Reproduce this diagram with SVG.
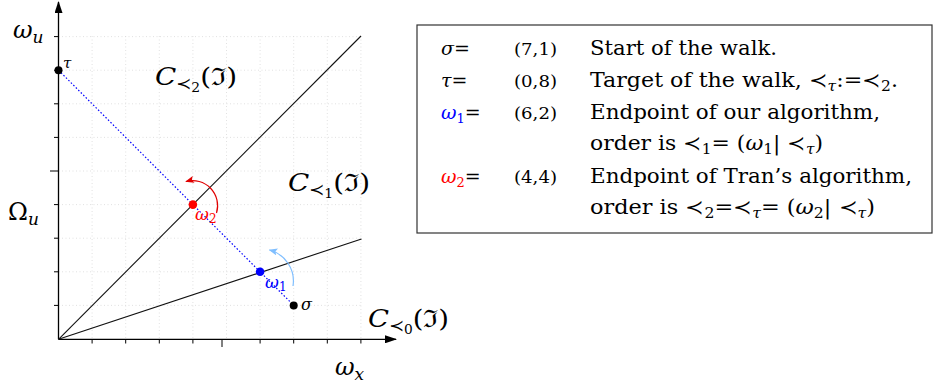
<svg xmlns="http://www.w3.org/2000/svg" width="935" height="384" viewBox="0 0 935 384">
<style>
.grid{stroke:#d9d9d9;stroke-width:0.8;stroke-dasharray:1 2.5;fill:none}
.axis{stroke:#000;stroke-width:1.3;fill:none}
.tick{stroke:#000;stroke-width:1}
.ray{stroke:#111;stroke-width:1.1;fill:none}
.walk{stroke:#0000ff;stroke-width:1.2;stroke-dasharray:1.5 2;fill:none}
.m{font-family:"DejaVu Serif","Liberation Serif",serif;fill:#000}
.i{font-style:italic}
.lg{font-family:"DejaVu Serif","Liberation Serif",serif;font-size:20px;fill:#000}
.c1{font-family:"DejaVu Serif","Liberation Serif",serif;font-size:19px;fill:#000}
.cd{font-family:"DejaVu Serif","Liberation Serif",serif;font-size:16px;fill:#000}
</style>
<defs>
<marker id="ah" viewBox="0 0 12 8" refX="11" refY="4" markerWidth="12" markerHeight="8" markerUnits="userSpaceOnUse" orient="auto">
<path d="M0,0 L12,4 L0,8 Z" fill="#000"/>
</marker>
<marker id="ar" viewBox="0 0 10 8" refX="9" refY="4" markerWidth="9" markerHeight="7" markerUnits="userSpaceOnUse" orient="auto">
<path d="M0,0 L10,4 L0,8 L2,4 Z" fill="#e00000"/>
</marker>
<marker id="ab" viewBox="0 0 10 8" refX="9" refY="4" markerWidth="9" markerHeight="7" markerUnits="userSpaceOnUse" orient="auto">
<path d="M0,0 L10,4 L0,8 L2,4 Z" fill="#80bfff"/>
</marker>
</defs>

<g id="grid">
<path class="grid" d="M92.1,36V339 M125.7,36V339 M159.3,36V339 M192.9,36V339 M226.5,36V339 M260.1,36V339 M293.7,36V339 M327.3,36V339 M360.9,36V339
M58.5,305.4H361 M58.5,271.8H361 M58.5,238.2H361 M58.5,204.6H361 M58.5,171H361 M58.5,137.4H361 M58.5,103.8H361 M58.5,70.2H361 M58.5,36.6H361"/>
</g>

<g id="axes">
<line class="axis" x1="58.5" y1="339.3" x2="396" y2="339.3" marker-end="url(#ah)"/>
<line class="axis" x1="58.5" y1="339.3" x2="58.5" y2="2" marker-end="url(#ah)"/>
<path class="tick" d="M92.1,339V343.5 M125.7,339V343.5 M159.3,339V343.5 M192.9,339V343.5 M222,339V347 M260.1,339V343.5 M293.7,339V343.5 M327.3,339V343.5 M360.9,339V343.5"/>
<path class="tick" d="M54,305.4H58.5 M54,271.8H58.5 M54,238.2H58.5 M54,204.6H58.5 M50,171H58.5 M54,137.4H58.5 M54,103.8H58.5 M54,70.2H58.5 M54,36.6H58.5"/>
</g>

<g id="connectors">
<line class="ray" x1="58.5" y1="339.3" x2="361" y2="36"/>
<line class="ray" x1="58.5" y1="339.3" x2="361.5" y2="239"/>
<line class="walk" x1="58.5" y1="70.2" x2="293.7" y2="305.4"/>
<path d="M216.5,213 A25,25 0 0 0 186,181.5" fill="none" stroke="#e00000" stroke-width="1.2" marker-end="url(#ar)"/>
<path d="M293,286 A32,32 0 0 0 269.5,250" fill="none" stroke="#80bfff" stroke-width="1.2" marker-end="url(#ab)"/>
</g>

<g id="axis-labels">
<text class="m" x="13" y="38" font-size="24"><tspan class="i">ω</tspan><tspan class="i" dy="5" font-size="17">u</tspan></text>
<text class="m" x="8" y="220" font-size="24">Ω<tspan class="i" dy="5" font-size="17">u</tspan></text>
<text class="m" x="335" y="375" font-size="24"><tspan class="i">ω</tspan><tspan class="i" dy="5" font-size="17">x</tspan></text>
</g>

<g id="region-labels">
<text class="m" x="155" y="85" font-size="24" textLength="82" lengthAdjust="spacingAndGlyphs"><tspan class="i">C</tspan><tspan dy="4" font-size="16">≺</tspan><tspan dy="3" font-size="12">2</tspan><tspan dy="-7">(ℑ)</tspan></text>
<text class="m" x="288" y="191" font-size="24" textLength="82" lengthAdjust="spacingAndGlyphs"><tspan class="i">C</tspan><tspan dy="4" font-size="16">≺</tspan><tspan dy="3" font-size="12">1</tspan><tspan dy="-7">(ℑ)</tspan></text>
<text class="m" x="368" y="327" font-size="24" textLength="81" lengthAdjust="spacingAndGlyphs"><tspan class="i">C</tspan><tspan dy="4" font-size="16">≺</tspan><tspan dy="3" font-size="12">0</tspan><tspan dy="-7">(ℑ)</tspan></text>
</g>

<g id="node-tau">
<circle cx="58.5" cy="70.2" r="4" fill="#000"/>
<text class="m i" x="63" y="68" font-size="15">τ</text>
</g>
<g id="node-sigma">
<circle cx="293.7" cy="305.4" r="4" fill="#000"/>
<text class="m i" x="301" y="310" font-size="16">σ</text>
</g>
<g id="node-omega1">
<circle cx="260.1" cy="271.8" r="4.3" fill="#0000ff"/>
<text class="m i" x="265" y="288" font-size="17" style="fill:#0000ff">ω<tspan font-style="normal" dy="3" font-size="12">1</tspan></text>
</g>
<g id="node-omega2">
<circle cx="192.9" cy="204.6" r="4.3" fill="#ff0000"/>
<text class="m i" x="195" y="220" font-size="17" style="fill:#ff0000">ω<tspan font-style="normal" dy="3" font-size="12">2</tspan></text>
</g>

<g id="legend">
<rect x="417" y="25" width="515" height="208" fill="#fff" stroke="#333" stroke-width="1.2"/>
<text class="c1" x="441" y="55"><tspan class="i">σ</tspan>=</text>
<text class="cd" x="514" y="55" textLength="43" lengthAdjust="spacingAndGlyphs">(7,1)</text>
<text class="lg" x="590" y="55" textLength="187" lengthAdjust="spacingAndGlyphs">Start of the walk.</text>

<text class="c1" x="441" y="87"><tspan class="i">τ</tspan>=</text>
<text class="cd" x="514" y="87" textLength="43" lengthAdjust="spacingAndGlyphs">(0,8)</text>
<text class="lg" x="590" y="87" textLength="308" lengthAdjust="spacingAndGlyphs">Target of the walk, ≺<tspan class="i" dy="4" font-size="14">τ</tspan><tspan dy="-4">:=≺</tspan><tspan dy="4" font-size="14">2</tspan><tspan dy="-4">.</tspan></text>

<text class="c1" x="441" y="119"><tspan class="i" style="fill:#0000ff">ω</tspan><tspan dy="4" font-size="13" style="fill:#0000ff">1</tspan><tspan dy="-4">=</tspan></text>
<text class="cd" x="514" y="119" textLength="43" lengthAdjust="spacingAndGlyphs">(6,2)</text>
<text class="lg" x="590" y="119" textLength="290" lengthAdjust="spacingAndGlyphs">Endpoint of our algorithm,</text>
<text class="lg" x="590" y="150" textLength="233" lengthAdjust="spacingAndGlyphs">order is ≺<tspan dy="4" font-size="14">1</tspan><tspan dy="-4">= (</tspan><tspan class="i">ω</tspan><tspan dy="4" font-size="14">1</tspan><tspan dy="-4">| ≺</tspan><tspan class="i" dy="4" font-size="14">τ</tspan><tspan dy="-4">)</tspan></text>

<text class="c1" x="441" y="183"><tspan class="i" style="fill:#ff0000">ω</tspan><tspan dy="4" font-size="13" style="fill:#ff0000">2</tspan><tspan dy="-4">=</tspan></text>
<text class="cd" x="514" y="183" textLength="43" lengthAdjust="spacingAndGlyphs">(4,4)</text>
<text class="lg" x="590" y="183" textLength="322" lengthAdjust="spacingAndGlyphs">Endpoint of Tran’s algorithm,</text>
<text class="lg" x="590" y="214" textLength="285" lengthAdjust="spacingAndGlyphs">order is ≺<tspan dy="4" font-size="14">2</tspan><tspan dy="-4">=≺</tspan><tspan class="i" dy="4" font-size="14">τ</tspan><tspan dy="-4">= (</tspan><tspan class="i">ω</tspan><tspan dy="4" font-size="14">2</tspan><tspan dy="-4">| ≺</tspan><tspan class="i" dy="4" font-size="14">τ</tspan><tspan dy="-4">)</tspan></text>
</g>
</svg>
